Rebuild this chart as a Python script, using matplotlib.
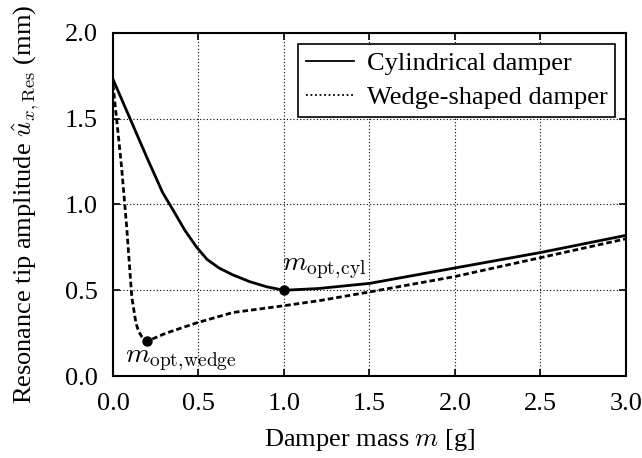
import matplotlib
matplotlib.use('Agg')
import matplotlib.pyplot as plt
from matplotlib.lines import Line2D
import numpy as np

# values
m_cyl = [0.0, 0.1, 0.2, 0.29, 0.35, 0.42, 0.49, 0.55, 0.62, 0.7, 0.8, 0.9, 1.0, 1.2, 1.5, 2.0, 2.5, 3.0]
u_cyl = [1.73, 1.50, 1.27, 1.07, 0.97, 0.85, 0.75, 0.68, 0.63, 0.59, 0.55, 0.52, 0.50, 0.51, 0.54, 0.63, 0.72, 0.82]

m_wedge = [0.0, 0.02, 0.05, 0.08, 0.11, 0.134, 0.15, 0.168, 0.185, 0.2, 0.24, 0.31, 0.49,
           0.7, 1.0, 1.21, 1.5, 2.0, 2.5, 3.0]
u_wedge = [1.70, 1.51, 1.22, 0.87, 0.46, 0.31, 0.26, 0.23, 0.213, 0.205, 0.22, 0.25, 0.31,
           0.37, 0.41, 0.44, 0.49, 0.58, 0.69, 0.80]

opt_m = [1.0, 0.2]
opt_u = [0.50, 0.205]

plt.rcParams['font.family'] = 'Liberation Serif'
plt.rcParams['mathtext.fontset'] = 'cm'
plt.rcParams['font.size'] = 19

fig = plt.figure(figsize=(6.42, 4.58), dpi=100)
ax = fig.add_axes([0.176, 0.179, 0.799, 0.749])

ax.plot(m_cyl, u_cyl, color='black', lw=2.0)
ax.plot(m_wedge, u_wedge, color='black', lw=2.0, dashes=(2.0, 1.1))
ax.plot(opt_m, opt_u, 'o', color='black', ms=6.5)

ax.text(0.99, 0.615, r'$m_{\mathrm{opt,\!cyl}}$', fontsize=20, ha='left', va='baseline')
ax.text(0.07, 0.08, r'$m_{\mathrm{opt,\!wedge}}$', fontsize=20, ha='left', va='baseline')

ax.set_xlim(0, 3)
ax.set_ylim(0, 2)
ax.set_xticks(np.arange(0, 3.01, 0.5))
ax.set_yticks(np.arange(0, 2.01, 0.5))
ax.set_xticklabels(['%.1f' % v for v in np.arange(0, 3.01, 0.5)])
ax.set_yticklabels(['%.1f' % v for v in np.arange(0, 2.01, 0.5)])
ax.tick_params(direction='in', top=True, right=True, length=5, width=1.2, labelsize=19)
ax.tick_params(axis='x', pad=12)
ax.tick_params(axis='y', pad=11)
ax.grid(True, color='black', ls=(0, (1, 2)), lw=0.8)
for s in ax.spines.values():
    s.set_linewidth(1.5)

ax.set_xlabel(r'Damper mass $m$ [g]', fontsize=19, labelpad=9)
ax.set_ylabel(r'Resonance tip amplitude $\hat{u}_{x,\mathrm{Res}}$ (mm)', fontsize=19, labelpad=17)

handles = [Line2D([], [], color='black', lw=1.3),
           Line2D([], [], color='black', lw=1.3, ls=(0, (1, 1.5)))]
leg = ax.legend(handles, ['Cylindrical damper', 'Wedge-shaped damper'],
                loc='upper right', fancybox=False, edgecolor='black', framealpha=1,
                fontsize=19, borderaxespad=0.4, handlelength=1.8,
                borderpad=0.3, labelspacing=0.4, handletextpad=0.5)
leg.get_frame().set_linewidth(1.2)

fig.savefig('out.png', dpi=100)
